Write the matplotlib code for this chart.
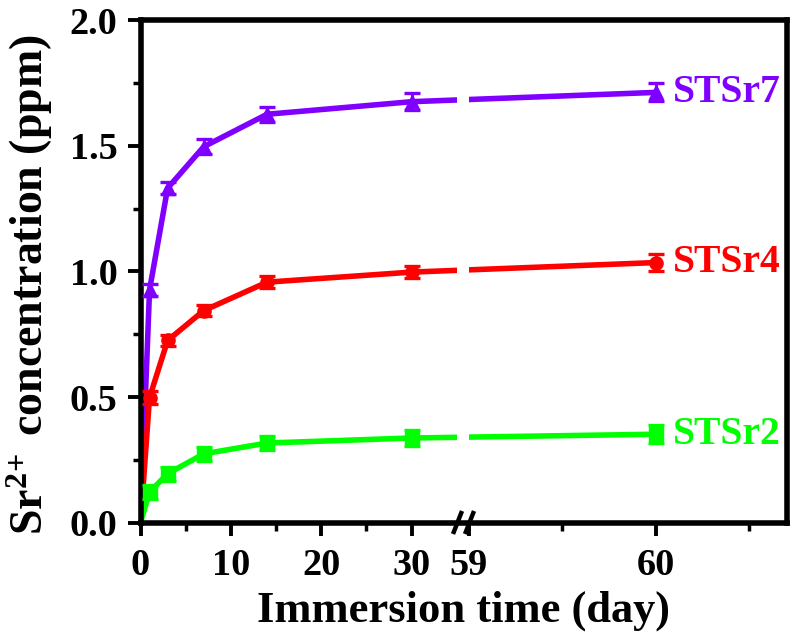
import matplotlib
matplotlib.use('Agg')
import numpy as np
import matplotlib.pyplot as plt
from matplotlib.lines import Line2D
from matplotlib.patches import Rectangle
from matplotlib.ticker import MultipleLocator, FixedLocator, FormatStrFormatter

# ---------------- data ----------------
days = [0, 1, 3, 7, 14, 30, 60]
stsr7 = [0, 0.926, 1.331, 1.496, 1.625, 1.675, 1.712]
stsr7_err = [0, 0.025, 0.024, 0.030, 0.030, 0.033, 0.036]
stsr4 = [0, 0.498, 0.725, 0.844, 0.957, 0.997, 1.035]
stsr4_err = [0, 0.027, 0.021, 0.023, 0.025, 0.024, 0.035]
stsr2 = [0, 0.122, 0.195, 0.274, 0.317, 0.337, 0.352]
stsr2_err = [0, 0.027, 0.028, 0.028, 0.027, 0.030, 0.035]
series_names = ['STSr7', 'STSr4', 'STSr2']
x_ticks = [0, 10, 20, 30, 59, 60]
x_minor_ticks = [5, 15, 25, 59.5, 60.5]
y_ticks = [0.0, 0.5, 1.0, 1.5, 2.0]
x_label = 'Immersion time (day)'
y_label = r'Sr$^{2\!+}$ concentration (ppm)'

series = [stsr7, stsr4, stsr2]
errors = [stsr7_err, stsr4_err, stsr2_err]
colors = ['#8000ff', '#ff0000', '#00ff00']
markers = ['^', 'o', 's']

# ---------------- broken x scale ----------------
BREAK_LO, BREAK_HI = 35.0, 59.0      # days cut out of the axis
X_MAX = 60.7
SEG1_PX, GAP_PX, SEG2_PX = 316.4, 12.1, 317.7   # pixel lengths of segments
k1 = SEG1_PX / BREAK_LO
k2 = SEG2_PX / (X_MAX - BREAK_HI)
gk = GAP_PX / (BREAK_HI - BREAK_LO)


def fwd(x):
    x = np.asarray(x, dtype=float)
    return np.where(x <= BREAK_LO, x * k1,
                    np.where(x <= BREAK_HI, SEG1_PX + (x - BREAK_LO) * gk,
                             SEG1_PX + GAP_PX + (x - BREAK_HI) * k2))


def inv(u):
    u = np.asarray(u, dtype=float)
    return np.where(u <= SEG1_PX, u / k1,
                    np.where(u <= SEG1_PX + GAP_PX, BREAK_LO + (u - SEG1_PX) / gk,
                             BREAK_HI + (u - SEG1_PX - GAP_PX) / k2))


# ---------------- style ----------------
plt.rcParams['font.family'] = ['Liberation Serif', 'DejaVu Serif']
plt.rcParams['font.weight'] = 'bold'
plt.rcParams['mathtext.fontset'] = 'custom'
plt.rcParams['mathtext.rm'] = 'Liberation Serif:bold'
plt.rcParams['mathtext.it'] = 'Liberation Serif:bold'
plt.rcParams['mathtext.bf'] = 'Liberation Serif:bold'
plt.rcParams['mathtext.default'] = 'rm'

W, H = 793, 638
fig = plt.figure(figsize=(W / 100, H / 100), dpi=100)


def fx(px):
    return px / W


def fy(py):
    return 1 - py / H


L, R, T, B = 140.5, 786.7, 20.0, 522.7

ax = fig.add_axes([fx(L), fy(B), fx(R - L), (B - T) / H])
ax.set_xscale('function', functions=(fwd, inv))
ax.set_xlim(0, X_MAX)
ax.set_ylim(0, 2)
ax.xaxis.set_major_locator(FixedLocator(x_ticks))
ax.xaxis.set_minor_locator(FixedLocator(x_minor_ticks))
ax.xaxis.set_major_formatter(FormatStrFormatter('%d'))
ax.xaxis.set_minor_formatter(plt.NullFormatter())
ax.yaxis.set_major_locator(FixedLocator(y_ticks))
ax.yaxis.set_minor_locator(MultipleLocator(0.25))
ax.yaxis.set_major_formatter(FormatStrFormatter('%.1f'))
ax.tick_params(which='major', direction='out', length=9.5, width=2.8,
               labelsize=27.5)
ax.tick_params(which='minor', direction='out', length=6, width=2.5)
ax.tick_params(axis='y', which='major', pad=7)
ax.tick_params(axis='x', which='major', pad=8.5)
for s in ax.spines.values():
    s.set_linewidth(4)

for vals, err, c, m in zip(series, errors, colors, markers):
    ax.plot(days, vals, '-', color=c, lw=4.0, zorder=2)
    ax.errorbar(days[1:], vals[1:], yerr=err[1:], fmt=m, color=c,
                markersize=9.5, elinewidth=2.2, capsize=5.5, capthick=2.4,
                zorder=3)

# gap in the data lines at the axis break
ax.add_patch(Rectangle((BREAK_LO, 0), BREAK_HI - BREAK_LO, 1,
                       transform=ax.get_xaxis_transform(),
                       facecolor='white', edgecolor='none', zorder=2.2))

# series labels
for vals, name, c in zip(series, series_names, colors):
    ax.annotate(name, xy=(days[-1], vals[-1]), xytext=(12.5, 0),
                textcoords='offset points', ha='left', va='center',
                fontsize=28.5, fontweight='bold', color=c,
                annotation_clip=False)

# axis break marks
for x0, x1 in [(453, 462), (465, 474)]:
    fig.add_artist(Line2D([fx(x0), fx(x1)], [fy(534), fy(511)],
                          transform=fig.transFigure, color='black', lw=3.2,
                          solid_capstyle='butt'))

# axis titles
fig.text(fx(464), fy(622), x_label, ha='center', va='baseline',
         fontsize=32, fontweight='bold')
fig.text(fx(30), fy(285), y_label, ha='center', va='center', rotation=90,
         fontsize=33, fontweight='bold')

fig.savefig('out.png', dpi=100)
